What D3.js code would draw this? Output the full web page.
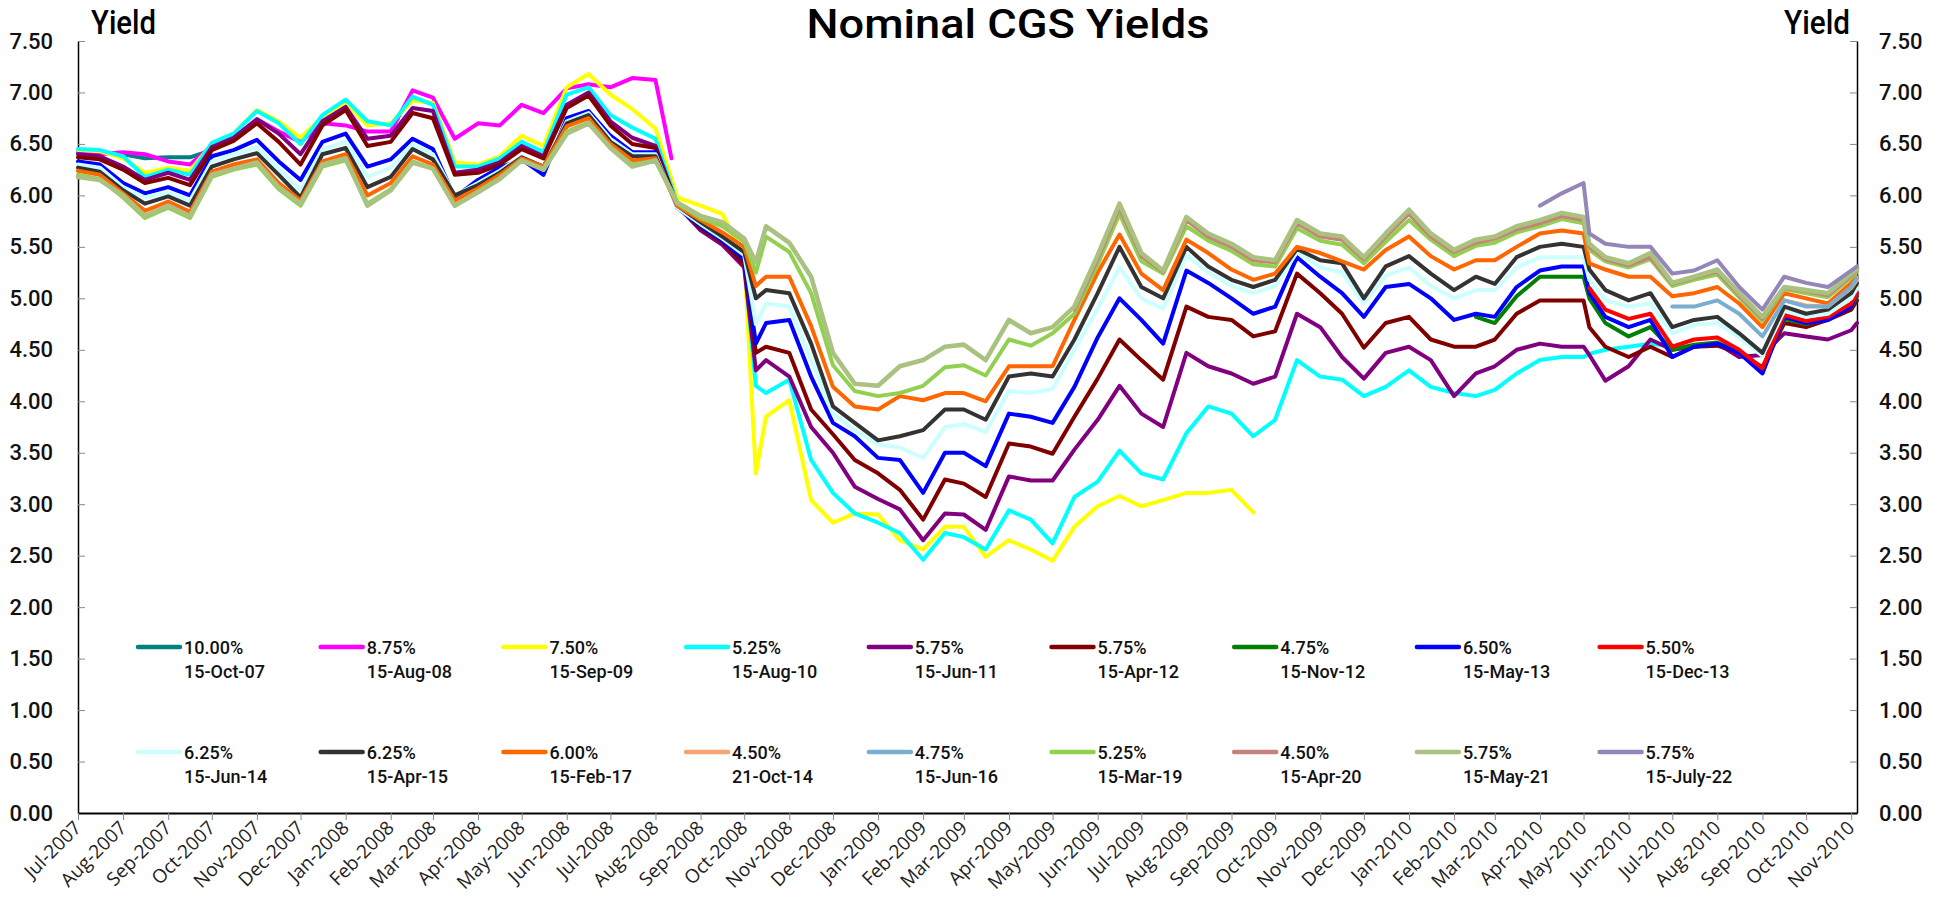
<!DOCTYPE html>
<meta charset="utf-8">
<style>
body { margin: 0; background: #fff; }
svg { display: block; }

.lines path {
  fill: none;
  stroke-linejoin: round;
  stroke-linecap: round;
}

.yaxis text {
  font-family: Roboto, "Liberation Sans", sans-serif;
  font-size: 22px;
  font-weight: 500;
  fill: #111;
}

.xaxis text {
  font-family: "Open Sans", "DejaVu Sans", sans-serif;
  font-size: 19px;
  fill: #222;
}

.tick line { stroke: #888; }

.legend text {
  font-family: Roboto, "Liberation Sans", sans-serif;
  font-size: 18px;
  font-weight: 500;
  fill: #111;
}

.big {
  font-family: "Liberation Sans Narrow", "Arial Narrow", Roboto, sans-serif;
  font-weight: 500;
  fill: #000;
}
</style>
<svg width="1937" height="899"></svg>
<script src="https://d3js.org/d3.v7.min.js"></script>
<script>

// sample dates (twice a month, plus a few days where something sharp happened)
var dates = [
  "2007-07-01","2007-07-16","2007-08-01","2007-08-16","2007-09-01","2007-09-16",
  "2007-10-01","2007-10-16","2007-11-01","2007-11-16","2007-12-01","2007-12-16",
  "2008-01-01","2008-01-16","2008-02-01","2008-02-16","2008-03-01","2008-03-16",
  "2008-04-01","2008-04-16","2008-05-01","2008-05-16","2008-06-01","2008-06-16",
  "2008-07-01","2008-07-16","2008-08-01","2008-08-12","2008-08-16","2008-09-01",
  "2008-09-16","2008-10-01","2008-10-09","2008-10-16","2008-11-01","2008-11-16",
  "2008-12-01","2008-12-16",
  "2009-01-01","2009-01-16","2009-02-01","2009-02-16","2009-03-01","2009-03-16",
  "2009-04-01","2009-04-16","2009-05-01","2009-05-16","2009-06-01","2009-06-16",
  "2009-07-01","2009-07-16","2009-08-01","2009-08-16","2009-09-01","2009-09-16",
  "2009-10-01","2009-10-16","2009-11-01","2009-11-16","2009-12-01","2009-12-16",
  "2010-01-01","2010-01-16","2010-02-01","2010-02-16","2010-03-01","2010-03-16",
  "2010-04-01","2010-04-16","2010-05-01","2010-05-05","2010-05-16","2010-06-01",
  "2010-06-16","2010-07-01","2010-07-16","2010-08-01","2010-08-16","2010-09-01",
  "2010-09-16","2010-10-01","2010-10-16","2010-11-01","2010-11-05"
];

// yields per bond, one value per date above (null = not on issue / not read)
var bondOct07 = [
  6.43, 6.42, 6.40, 6.36, 6.37, 6.37, 6.44, null, null, null, null, null,
  null, null, null, null, null, null, null, null, null, null, null, null, null, null,
  null, null, null, null, null, null, null, null, null, null, null, null,
  null, null, null, null, null, null, null, null, null, null, null, null,
  null, null, null, null, null, null, null, null, null, null, null, null,
  null, null, null, null, null, null, null, null, null, null, null, null,
  null, null, null, null, null, null, null, null, null, null, null
];
var bondAug08 = [
  6.42, 6.40, 6.42, 6.40, 6.33, 6.30, 6.48, 6.56, 6.74, 6.62, 6.52, 6.70,
  6.68, 6.62, 6.62, 7.02, 6.95, 6.55, 6.70, 6.68, 6.88, 6.80, 7.04, 7.08, 7.05, 7.14,
  7.12, 6.36, null, null, null, null, null, null, null, null, null, null,
  null, null, null, null, null, null, null, null, null, null, null, null,
  null, null, null, null, null, null, null, null, null, null, null, null,
  null, null, null, null, null, null, null, null, null, null, null, null,
  null, null, null, null, null, null, null, null, null, null, null
];
var bondSep09 = [
  6.44, 6.43, 6.36, 6.22, 6.27, 6.24, 6.50, 6.60, 6.83, 6.72, 6.56, 6.76,
  6.90, 6.68, 6.70, 6.92, 6.90, 6.32, 6.30, 6.38, 6.58, 6.48, 7.05, 7.18, 6.98, 6.84,
  6.65, null, 5.98, 5.90, 5.82, 5.40, 3.30, 3.85, 4.01, 3.04, 2.82, 2.91,
  2.90, 2.65, 2.56, 2.78, 2.78, 2.49, 2.65, 2.56, 2.45, 2.78, 2.98, 3.08,
  2.98, 3.04, 3.11, 3.11, 3.14, 2.92, null, null, null, null, null, null,
  null, null, null, null, null, null, null, null, null, null, null, null,
  null, null, null, null, null, null, null, null, null, null, null
];
var bondAug10 = [
  6.45, 6.44, 6.38, 6.18, 6.25, 6.20, 6.51, 6.60, 6.82, 6.70, 6.50, 6.78,
  6.93, 6.72, 6.68, 6.96, 6.88, 6.28, 6.28, 6.36, 6.52, 6.42, 6.98, 7.05, 6.78, 6.66,
  6.55, null, 5.92, 5.75, 5.60, 5.35, 4.15, 4.08, 4.21, 3.43, 3.11, 2.91,
  2.82, 2.72, 2.46, 2.72, 2.68, 2.56, 2.94, 2.85, 2.62, 3.07, 3.22, 3.52,
  3.30, 3.24, 3.69, 3.95, 3.88, 3.66, 3.82, 4.40, 4.24, 4.21, 4.05, 4.14,
  4.30, 4.14, 4.08, 4.05, 4.11, 4.27, 4.40, 4.43, 4.43, 4.46, 4.50, 4.53,
  4.56, 4.53, 4.53, 4.55, null, null, null, null, null, null, null
];
var bondJun11 = [
  6.40, 6.38, 6.28, 6.15, 6.22, 6.15, 6.47, 6.56, 6.74, 6.60, 6.40, 6.72,
  6.86, 6.55, 6.58, 6.85, 6.82, 6.22, 6.25, 6.32, 6.48, 6.38, 6.88, 7.00, 6.72, 6.56,
  6.48, null, 5.90, 5.66, 5.52, 5.30, 4.30, 4.40, 4.24, 3.75, 3.50, 3.17,
  3.05, 2.95, 2.65, 2.91, 2.90, 2.75, 3.27, 3.23, 3.23, 3.53, 3.82, 4.15,
  3.88, 3.75, 4.47, 4.34, 4.27, 4.17, 4.24, 4.85, 4.72, 4.43, 4.22, 4.47,
  4.53, 4.40, 4.05, 4.27, 4.34, 4.50, 4.56, 4.53, 4.53, 4.45, 4.20, 4.34,
  4.60, 4.50, 4.53, 4.56, 4.43, 4.45, 4.66, 4.63, 4.60, 4.69, 4.76
];
var bondApr12 = [
  6.37, 6.35, 6.25, 6.12, 6.17, 6.10, 6.44, 6.53, 6.70, 6.52, 6.30, 6.68,
  6.83, 6.48, 6.52, 6.80, 6.75, 6.20, 6.22, 6.30, 6.45, 6.36, 6.85, 6.97, 6.68, 6.50,
  6.46, null, 5.90, 5.68, 5.55, 5.33, 4.47, 4.53, 4.47, 3.92, 3.68, 3.43,
  3.30, 3.14, 2.85, 3.24, 3.20, 3.07, 3.59, 3.56, 3.49, 3.85, 4.22, 4.60,
  4.40, 4.21, 4.92, 4.82, 4.79, 4.63, 4.68, 5.24, 5.05, 4.85, 4.52, 4.76,
  4.82, 4.60, 4.53, 4.53, 4.60, 4.85, 4.98, 4.98, 4.98, 4.72, 4.53, 4.43,
  4.53, 4.43, 4.53, 4.54, 4.47, 4.33, 4.76, 4.72, 4.79, 4.89, 4.98
];
var bondNov12 = [
  null, null, null, null, null, null, null, null, null, null, null, null,
  null, null, null, null, null, null, null, null, null, null, null, null, null, null,
  null, null, null, null, null, null, null, null, null, null, null, null,
  null, null, null, null, null, null, null, null, null, null, null, null,
  null, null, null, null, null, null, null, null, null, null, null, null,
  null, null, null, 4.82, 4.76, 5.02, 5.21, 5.21, 5.21, 5.00, 4.76, 4.63,
  4.72, 4.50, 4.55, 4.57, 4.48, 4.30, 4.80, 4.75, 4.80, 4.92, 5.02
];
var bondMay13 = [
  6.33, 6.30, 6.12, 6.02, 6.08, 6.00, 6.38, 6.44, 6.54, 6.33, 6.15, 6.52,
  6.60, 6.28, 6.35, 6.55, 6.45, 5.98, 6.15, 6.27, 6.35, 6.20, 6.75, 6.82, 6.58, 6.42,
  6.42, null, 5.88, 5.70, 5.56, 5.38, 4.56, 4.76, 4.79, 4.24, 3.79, 3.66,
  3.45, 3.43, 3.11, 3.50, 3.50, 3.37, 3.88, 3.85, 3.79, 4.14, 4.62, 5.00,
  4.79, 4.56, 5.27, 5.15, 5.00, 4.85, 4.92, 5.40, 5.21, 5.05, 4.82, 5.11,
  5.14, 5.00, 4.79, 4.85, 4.82, 5.11, 5.27, 5.31, 5.31, 5.05, 4.82, 4.72,
  4.79, 4.43, 4.53, 4.56, 4.47, 4.27, 4.82, 4.76, 4.79, 4.92, 5.05
];
var bondDec13 = [
  null, null, null, null, null, null, null, null, null, null, null, null,
  null, null, null, null, null, null, null, null, null, null, null, null, null, null,
  null, null, null, null, null, null, null, null, null, null, null, null,
  null, null, null, null, null, null, null, null, null, null, null, null,
  null, null, null, null, null, null, null, null, null, null, null, null,
  null, null, null, null, null, null, null, null, null, 5.10, 4.89, 4.80,
  4.85, 4.53, 4.60, 4.62, 4.50, 4.32, 4.84, 4.78, 4.82, 4.95, 5.05
];
var bondJun14 = [
  6.30, 6.27, 6.08, 5.98, 6.03, 5.95, 6.33, 6.40, 6.47, 6.26, 6.05, 6.45,
  6.52, 6.18, 6.27, 6.50, 6.40, 6.00, 6.12, 6.24, 6.38, 6.25, 6.72, 6.80, 6.55, 6.40,
  6.40, null, 5.88, 5.72, 5.58, 5.42, 4.75, 4.95, 4.92, 4.40, 3.88, 3.72,
  3.58, 3.55, 3.45, 3.75, 3.78, 3.70, 4.10, 4.08, 4.12, 4.50, 4.90, 5.30,
  5.00, 4.90, 5.42, 5.25, 5.12, 5.05, 5.12, 5.45, 5.30, 5.25, 4.95, 5.22,
  5.30, 5.12, 5.00, 5.08, 5.08, 5.30, 5.40, 5.40, 5.40, 5.18, 4.98, 4.92,
  4.95, 4.66, 4.74, 4.76, 4.62, 4.44, 4.88, 4.82, 4.85, 5.00, 5.10
];
var bondApr15 = [
  6.27, 6.23, 6.05, 5.92, 5.99, 5.90, 6.28, 6.35, 6.41, 6.20, 5.98, 6.40,
  6.46, 6.08, 6.18, 6.45, 6.35, 6.00, 6.10, 6.22, 6.37, 6.28, 6.70, 6.78, 6.52, 6.38,
  6.38, null, 5.90, 5.74, 5.60, 5.45, 5.00, 5.08, 5.05, 4.56, 3.95, 3.79,
  3.62, 3.66, 3.72, 3.92, 3.92, 3.82, 4.24, 4.27, 4.24, 4.60, 5.05, 5.50,
  5.11, 5.00, 5.50, 5.31, 5.18, 5.11, 5.18, 5.48, 5.37, 5.34, 5.00, 5.31,
  5.41, 5.24, 5.08, 5.21, 5.14, 5.40, 5.50, 5.53, 5.50, 5.28, 5.08, 4.98,
  5.05, 4.72, 4.79, 4.82, 4.66, 4.47, 4.92, 4.85, 4.89, 5.05, 5.15
];
var bondFeb17 = [
  6.24, 6.20, 6.02, 5.85, 5.94, 5.84, 6.23, 6.30, 6.35, 6.12, 5.95, 6.33,
  6.40, 6.00, 6.12, 6.38, 6.30, 5.95, 6.07, 6.20, 6.36, 6.28, 6.67, 6.75, 6.50, 6.34,
  6.36, null, 5.90, 5.76, 5.64, 5.50, 5.12, 5.21, 5.21, 4.73, 4.14, 3.95,
  3.92, 4.05, 4.01, 4.08, 4.08, 4.00, 4.34, 4.34, 4.34, 4.79, 5.25, 5.62,
  5.24, 5.08, 5.57, 5.44, 5.28, 5.18, 5.24, 5.50, 5.44, 5.36, 5.28, 5.47,
  5.60, 5.41, 5.28, 5.37, 5.37, 5.50, 5.63, 5.66, 5.63, 5.34, 5.28, 5.21,
  5.21, 5.02, 5.05, 5.11, 4.95, 4.72, 5.05, 5.00, 4.95, 5.15, 5.21
];
var bondOct14 = [
  null, null, null, null, null, null, null, null, null, null, null, null,
  null, null, null, null, null, null, null, null, null, null, null, null, null, null,
  null, null, null, null, null, null, null, null, null, null, null, null,
  null, null, null, null, null, null, null, null, null, null, null, null,
  null, null, null, null, null, null, null, null, null, null, null, null,
  null, null, null, null, null, null, null, null, null, null, null, null,
  null, null, null, null, null, null, 4.98, 4.93, 4.92, 5.10, 5.18
];
var bondJun16 = [
  null, null, null, null, null, null, null, null, null, null, null, null,
  null, null, null, null, null, null, null, null, null, null, null, null, null, null,
  null, null, null, null, null, null, null, null, null, null, null, null,
  null, null, null, null, null, null, null, null, null, null, null, null,
  null, null, null, null, null, null, null, null, null, null, null, null,
  null, null, null, null, null, null, null, null, null, null, null, null,
  null, 4.92, 4.92, 4.98, 4.85, 4.63, 4.98, 4.92, 4.92, 5.11, 5.20
];
var bondMar19 = [
  6.20, 6.16, 5.98, 5.78, 5.88, 5.78, 6.18, 6.25, 6.30, 6.06, 5.90, 6.28,
  6.34, 5.92, 6.06, 6.33, 6.26, 5.90, 6.04, 6.17, 6.34, 6.26, 6.62, 6.71, 6.47, 6.30,
  6.34, null, 5.92, 5.78, 5.70, 5.55, 5.25, 5.60, 5.45, 5.05, 4.35, 4.10,
  4.05, 4.08, 4.15, 4.33, 4.35, 4.25, 4.60, 4.54, 4.66, 4.85, 5.33, 5.82,
  5.36, 5.24, 5.70, 5.56, 5.46, 5.33, 5.31, 5.68, 5.56, 5.52, 5.34, 5.55,
  5.76, 5.57, 5.41, 5.51, 5.54, 5.64, 5.70, 5.77, 5.73, 5.47, 5.36, 5.30,
  5.38, 5.12, 5.18, 5.23, 5.01, 4.78, 5.09, 5.05, 5.01, 5.20, 5.26
];
var bondApr20 = [
  null, null, null, null, null, null, null, null, null, null, null, null,
  null, null, null, null, null, null, null, null, null, null, null, null, null, null,
  null, null, null, null, null, null, null, null, null, null, null, null,
  null, null, null, null, null, null, null, null, null, 4.89, 5.38, 5.88,
  5.41, 5.26, 5.76, 5.60, 5.50, 5.37, 5.35, 5.73, 5.60, 5.57, 5.38, 5.60,
  5.82, 5.60, 5.45, 5.54, 5.58, 5.67, 5.73, 5.80, 5.76, 5.50, 5.38, 5.32,
  5.40, 5.14, 5.20, 5.26, 5.03, 4.80, 5.10, 5.07, 5.03, 5.22, 5.28
];
var bondMay21 = [
  6.18, 6.15, 6.00, 5.80, 5.90, 5.80, 6.20, 6.26, 6.32, 6.08, 5.92, 6.30,
  6.36, 5.90, 6.05, 6.32, 6.26, 5.90, 6.03, 6.16, 6.34, 6.25, 6.60, 6.70, 6.46, 6.28,
  6.34, null, 5.93, 5.80, 5.74, 5.58, 5.35, 5.70, 5.54, 5.21, 4.47, 4.17,
  4.15, 4.34, 4.40, 4.53, 4.55, 4.40, 4.79, 4.66, 4.72, 4.92, 5.42, 5.92,
  5.44, 5.27, 5.79, 5.63, 5.53, 5.40, 5.37, 5.76, 5.63, 5.60, 5.40, 5.63,
  5.86, 5.63, 5.47, 5.57, 5.60, 5.70, 5.76, 5.83, 5.79, 5.53, 5.40, 5.34,
  5.44, 5.15, 5.21, 5.28, 5.05, 4.82, 5.11, 5.08, 5.05, 5.24, 5.29
];
var bondJul22 = [
  null, null, null, null, null, null, null, null, null, null, null, null,
  null, null, null, null, null, null, null, null, null, null, null, null, null, null,
  null, null, null, null, null, null, null, null, null, null, null, null,
  null, null, null, null, null, null, null, null, null, null, null, null,
  null, null, null, null, null, null, null, null, null, null, null, null,
  null, null, null, null, null, null, 5.90, 6.02, 6.12, 5.63, 5.53, 5.50,
  5.50, 5.24, 5.27, 5.37, 5.11, 4.89, 5.21, 5.15, 5.11, 5.27, 5.31
];

var coupons   = ["10.00%", "8.75%", "7.50%", "5.25%", "5.75%", "5.75%", "4.75%", "6.50%", "5.50%",
                 "6.25%", "6.25%", "6.00%", "4.50%", "4.75%", "5.25%", "4.50%", "5.75%", "5.75%"];
var maturities = ["15-Oct-07", "15-Aug-08", "15-Sep-09", "15-Aug-10", "15-Jun-11", "15-Apr-12", "15-Nov-12", "15-May-13", "15-Dec-13",
                  "15-Jun-14", "15-Apr-15", "15-Feb-17", "21-Oct-14", "15-Jun-16", "15-Mar-19", "15-Apr-20", "15-May-21", "15-July-22"];
var yTicks = [0, 0.5, 1, 1.5, 2, 2.5, 3, 3.5, 4, 4.5, 5, 5.5, 6, 6.5, 7, 7.5];

// legend order == drawing order (later ones on top, like the spreadsheet)
var seriesValues = [bondOct07, bondAug08, bondSep09, bondAug10, bondJun11, bondApr12, bondNov12, bondMay13, bondDec13,
                    bondJun14, bondApr15, bondFeb17, bondOct14, bondJun16, bondMar19, bondApr20, bondMay21, bondJul22];
var colors = ["#008080", "#ff00ff", "#ffff00", "#00ffff", "#800080", "#800000", "#008000", "#0000ff", "#ff0000",
              "#ccffff", "#333333", "#ff6600", "#f7a56e", "#7aaed0", "#92d050", "#c8827c", "#a9c27f", "#9486b9"];

var svg = d3.select("svg");
var parse = d3.timeParse("%Y-%m-%d");

var x = d3.scaleTime()
    .domain([parse("2007-07-01"), parse("2010-11-05")])
    .range([78, 1857]);
var y = d3.scaleLinear()
    .domain([0, 7.5])
    .range([813, 41]);

// axes
svg.append("g")
    .attr("class", "yaxis")
    .attr("transform", "translate(78,0)")
    .call(d3.axisLeft(y).tickValues(yTicks).tickFormat(d3.format(".2f"))
      .tickSizeInner(-7).tickSizeOuter(0).tickPadding(25));

svg.append("g")
    .attr("class", "yaxis")
    .attr("transform", "translate(1857,0)")
    .call(d3.axisRight(y).tickValues(yTicks).tickFormat(d3.format(".2f"))
      .tickSizeInner(-7).tickSizeOuter(0).tickPadding(22));

var xAxis = svg.append("g")
    .attr("class", "xaxis")
    .attr("transform", "translate(0,813)")
    .call(d3.axisBottom(x).ticks(d3.timeMonth.every(1)).tickFormat(d3.timeFormat("%b-%Y"))
      .tickSizeInner(7).tickSizeOuter(0));

xAxis.selectAll("text")
    .attr("x", 0)
    .attr("y", 0)
    .attr("dy", null)
    .attr("text-anchor", "end")
    .attr("transform", "translate(4,16) rotate(-45)");

svg.selectAll(".yaxis .domain").attr("stroke", "#000").attr("stroke-width", 1.5);
svg.selectAll(".xaxis .domain").attr("stroke", "#000").attr("stroke-width", 2);

// lines
var line = d3.line()
    .x(function(d) { return x(d.date); })
    .y(function(d) { return y(d.value); });

var lines = svg.append("g").attr("class", "lines");

seriesValues.forEach(function(vals, i) {
  if (vals.length !== dates.length) throw new Error("series " + i + " has " + vals.length + " values");
  var pts = dates.map(function(d, j) { return {date: parse(d), value: vals[j]}; })
      .filter(function(p) { return p.value != null; });
  lines.append("path")
      .datum(pts)
      .attr("stroke", colors[i])
      .attr("stroke-width", i == 16 ? 4.6 : 4)
      .attr("d", line);
});

// legend: two rows of nine
var legend = svg.append("g").attr("class", "legend");

coupons.forEach(function(c, i) {
  var lx = 184 + (i % 9) * 182.7,
      ly = i < 9 ? 647 : 752;
  legend.append("line")
      .attr("x1", lx - 46).attr("x2", lx - 4)
      .attr("y1", ly).attr("y2", ly)
      .attr("stroke", colors[i])
      .attr("stroke-width", 4.5)
      .attr("stroke-linecap", "round");
  legend.append("text")
      .attr("x", lx).attr("y", ly)
      .attr("dominant-baseline", "central")
      .text(c);
  legend.append("text")
      .attr("x", lx).attr("y", ly + 24)
      .attr("dominant-baseline", "central")
      .text(maturities[i]);
});

// titles
svg.append("text")
    .attr("class", "big")
    .attr("x", 1008).attr("y", 38)
    .attr("text-anchor", "middle")
    .attr("font-size", 40)
    .attr("textLength", 403)
    .attr("lengthAdjust", "spacingAndGlyphs")
    .text("Nominal CGS Yields");

svg.append("text")
    .attr("class", "big")
    .attr("x", 91).attr("y", 34)
    .attr("font-size", 33)
    .attr("textLength", 65)
    .attr("lengthAdjust", "spacingAndGlyphs")
    .text("Yield");

svg.append("text")
    .attr("class", "big")
    .attr("x", 1784).attr("y", 34)
    .attr("font-size", 33)
    .attr("textLength", 66)
    .attr("lengthAdjust", "spacingAndGlyphs")
    .text("Yield");

</script>
